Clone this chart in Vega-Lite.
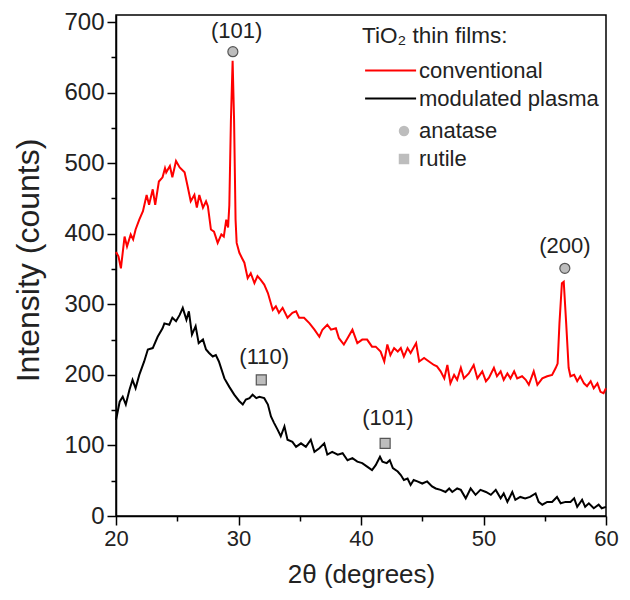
{
"$schema": "https://vega.github.io/schema/vega-lite/v6.json",
"width": 490, "height": 501,
"autosize": {"type": "none"},
"padding": {"left": 116, "top": 15, "right": 24, "bottom": 84},
"background": "white",
"config": {
  "font": "Liberation Sans",
  "view": {"stroke": "#000", "strokeWidth": 1.5},
  "axis": {"domainColor": "#000", "domainWidth": 1.5, "tickColor": "#000", "tickWidth": 1.5, "tickSize": 9, "labelFontSize": 22, "labelColor": "#222", "titleFontSize": 26, "titleFontWeight": "normal", "titleColor": "#222", "grid": false, "labelPadding": 3}
},
"datasets": {
  "xrd": [
{"film":"conventional","angle":20.0,"counts":374},{"film":"conventional","angle":20.2,"counts":368},{"film":"conventional","angle":20.4,"counts":351},{"film":"conventional","angle":20.7,"counts":396},{"film":"conventional","angle":20.9,"counts":382},{"film":"conventional","angle":21.2,"counts":399},{"film":"conventional","angle":21.4,"counts":392},{"film":"conventional","angle":21.6,"counts":406},{"film":"conventional","angle":21.9,"counts":420},{"film":"conventional","angle":22.2,"counts":432},{"film":"conventional","angle":22.5,"counts":455},{"film":"conventional","angle":22.7,"counts":441},{"film":"conventional","angle":23.0,"counts":463},{"film":"conventional","angle":23.2,"counts":441},{"film":"conventional","angle":23.5,"counts":474},{"film":"conventional","angle":23.8,"counts":480},{"film":"conventional","angle":24.0,"counts":493},{"film":"conventional","angle":24.1,"counts":487},{"film":"conventional","angle":24.4,"counts":496},{"film":"conventional","angle":24.6,"counts":480},{"film":"conventional","angle":24.9,"counts":503},{"film":"conventional","angle":25.2,"counts":494},{"film":"conventional","angle":25.6,"counts":487},{"film":"conventional","angle":25.85,"counts":467},{"film":"conventional","angle":26.1,"counts":446},{"film":"conventional","angle":26.4,"counts":455},{"film":"conventional","angle":26.6,"counts":437},{"film":"conventional","angle":26.8,"counts":455},{"film":"conventional","angle":27.1,"counts":437},{"film":"conventional","angle":27.35,"counts":446},{"film":"conventional","angle":27.5,"counts":439},{"film":"conventional","angle":27.75,"counts":406},{"film":"conventional","angle":28.0,"counts":403},{"film":"conventional","angle":28.3,"counts":387},{"film":"conventional","angle":28.6,"counts":399},{"film":"conventional","angle":28.8,"counts":396},{"film":"conventional","angle":29.0,"counts":420},{"film":"conventional","angle":29.15,"counts":409},{"film":"conventional","angle":29.25,"counts":440},{"film":"conventional","angle":29.38,"counts":560},{"film":"conventional","angle":29.52,"counts":645},{"film":"conventional","angle":29.64,"counts":560},{"film":"conventional","angle":29.76,"counts":420},{"film":"conventional","angle":29.85,"counts":387},{"film":"conventional","angle":30.07,"counts":373},{"film":"conventional","angle":30.3,"counts":365},{"film":"conventional","angle":30.48,"counts":359},{"film":"conventional","angle":30.75,"counts":337},{"film":"conventional","angle":31.0,"counts":344},{"film":"conventional","angle":31.3,"counts":330},{"film":"conventional","angle":31.55,"counts":340},{"film":"conventional","angle":31.8,"counts":335},{"film":"conventional","angle":32.1,"counts":328},{"film":"conventional","angle":32.4,"counts":316},{"film":"conventional","angle":32.8,"counts":292},{"film":"conventional","angle":33.05,"counts":297},{"film":"conventional","angle":33.3,"counts":288},{"film":"conventional","angle":33.6,"counts":295},{"film":"conventional","angle":34.0,"counts":281},{"film":"conventional","angle":34.4,"counts":288},{"film":"conventional","angle":34.7,"counts":290},{"film":"conventional","angle":34.95,"counts":281},{"film":"conventional","angle":35.35,"counts":281},{"film":"conventional","angle":35.8,"counts":273},{"film":"conventional","angle":36.2,"counts":264},{"film":"conventional","angle":36.6,"counts":254},{"film":"conventional","angle":36.85,"counts":264},{"film":"conventional","angle":37.25,"counts":271},{"film":"conventional","angle":37.55,"counts":264},{"film":"conventional","angle":37.95,"counts":266},{"film":"conventional","angle":38.2,"counts":252},{"film":"conventional","angle":38.6,"counts":243},{"film":"conventional","angle":38.9,"counts":252},{"film":"conventional","angle":39.3,"counts":264},{"film":"conventional","angle":39.7,"counts":245},{"film":"conventional","angle":40.1,"counts":250},{"film":"conventional","angle":40.5,"counts":250},{"film":"conventional","angle":40.9,"counts":240},{"film":"conventional","angle":41.2,"counts":240},{"film":"conventional","angle":41.6,"counts":233},{"film":"conventional","angle":41.9,"counts":219},{"film":"conventional","angle":42.15,"counts":243},{"film":"conventional","angle":42.4,"counts":228},{"film":"conventional","angle":42.7,"counts":238},{"film":"conventional","angle":43.0,"counts":233},{"film":"conventional","angle":43.25,"counts":238},{"film":"conventional","angle":43.5,"counts":226},{"film":"conventional","angle":43.8,"counts":238},{"film":"conventional","angle":44.05,"counts":231},{"film":"conventional","angle":44.5,"counts":245},{"film":"conventional","angle":44.75,"counts":219},{"film":"conventional","angle":45.15,"counts":224},{"film":"conventional","angle":45.55,"counts":219},{"film":"conventional","angle":45.95,"counts":214},{"film":"conventional","angle":46.2,"counts":212},{"film":"conventional","angle":46.5,"counts":205},{"film":"conventional","angle":46.8,"counts":195},{"film":"conventional","angle":47.05,"counts":214},{"film":"conventional","angle":47.3,"counts":188},{"film":"conventional","angle":47.6,"counts":200},{"film":"conventional","angle":47.85,"counts":193},{"film":"conventional","angle":48.15,"counts":210},{"film":"conventional","angle":48.4,"counts":195},{"film":"conventional","angle":48.8,"counts":202},{"film":"conventional","angle":49.2,"counts":214},{"film":"conventional","angle":49.5,"counts":195},{"film":"conventional","angle":49.9,"counts":205},{"film":"conventional","angle":50.2,"counts":191},{"film":"conventional","angle":50.45,"counts":196},{"film":"conventional","angle":50.85,"counts":210},{"film":"conventional","angle":51.1,"counts":198},{"film":"conventional","angle":51.4,"counts":205},{"film":"conventional","angle":51.65,"counts":193},{"film":"conventional","angle":51.95,"counts":202},{"film":"conventional","angle":52.2,"counts":195},{"film":"conventional","angle":52.5,"counts":205},{"film":"conventional","angle":52.75,"counts":195},{"film":"conventional","angle":53.15,"counts":198},{"film":"conventional","angle":53.45,"counts":193},{"film":"conventional","angle":53.7,"counts":186},{"film":"conventional","angle":54.1,"counts":205},{"film":"conventional","angle":54.4,"counts":186},{"film":"conventional","angle":54.8,"counts":195},{"film":"conventional","angle":55.2,"counts":198},{"film":"conventional","angle":55.6,"counts":200},{"film":"conventional","angle":55.9,"counts":210},{"film":"conventional","angle":56.05,"counts":216},{"film":"conventional","angle":56.2,"counts":273},{"film":"conventional","angle":56.4,"counts":330},{"film":"conventional","angle":56.55,"counts":332},{"film":"conventional","angle":56.75,"counts":273},{"film":"conventional","angle":56.95,"counts":210},{"film":"conventional","angle":57.1,"counts":198},{"film":"conventional","angle":57.4,"counts":200},{"film":"conventional","angle":57.65,"counts":191},{"film":"conventional","angle":57.9,"counts":198},{"film":"conventional","angle":58.2,"counts":188},{"film":"conventional","angle":58.45,"counts":184},{"film":"conventional","angle":58.75,"counts":191},{"film":"conventional","angle":59.0,"counts":181},{"film":"conventional","angle":59.3,"counts":188},{"film":"conventional","angle":59.55,"counts":176},{"film":"conventional","angle":59.8,"counts":174},{"film":"conventional","angle":60.0,"counts":181},
{"film":"modulated plasma","angle":20.0,"counts":136},{"film":"modulated plasma","angle":20.3,"counts":162},{"film":"modulated plasma","angle":20.55,"counts":169},{"film":"modulated plasma","angle":20.8,"counts":158},{"film":"modulated plasma","angle":21.1,"counts":179},{"film":"modulated plasma","angle":21.35,"counts":193},{"film":"modulated plasma","angle":21.6,"counts":181},{"film":"modulated plasma","angle":21.9,"counts":200},{"film":"modulated plasma","angle":22.3,"counts":219},{"film":"modulated plasma","angle":22.6,"counts":236},{"film":"modulated plasma","angle":23.0,"counts":238},{"film":"modulated plasma","angle":23.4,"counts":254},{"film":"modulated plasma","angle":23.8,"counts":266},{"film":"modulated plasma","angle":23.95,"counts":273},{"film":"modulated plasma","angle":24.35,"counts":271},{"film":"modulated plasma","angle":24.6,"counts":281},{"film":"modulated plasma","angle":24.9,"counts":276},{"film":"modulated plasma","angle":25.2,"counts":285},{"film":"modulated plasma","angle":25.45,"counts":295},{"film":"modulated plasma","angle":25.75,"counts":278},{"film":"modulated plasma","angle":25.95,"counts":290},{"film":"modulated plasma","angle":26.2,"counts":257},{"film":"modulated plasma","angle":26.5,"counts":269},{"film":"modulated plasma","angle":26.75,"counts":245},{"film":"modulated plasma","angle":27.1,"counts":250},{"film":"modulated plasma","angle":27.35,"counts":236},{"film":"modulated plasma","angle":27.6,"counts":231},{"film":"modulated plasma","angle":27.9,"counts":226},{"film":"modulated plasma","angle":28.15,"counts":228},{"film":"modulated plasma","angle":28.4,"counts":219},{"film":"modulated plasma","angle":28.85,"counts":195},{"film":"modulated plasma","angle":29.25,"counts":183},{"film":"modulated plasma","angle":29.65,"counts":172},{"film":"modulated plasma","angle":30.05,"counts":163},{"film":"modulated plasma","angle":30.35,"counts":158},{"film":"modulated plasma","angle":30.6,"counts":165},{"film":"modulated plasma","angle":30.9,"counts":167},{"film":"modulated plasma","angle":31.15,"counts":172},{"film":"modulated plasma","angle":31.45,"counts":167},{"film":"modulated plasma","angle":31.7,"counts":169},{"film":"modulated plasma","angle":32.1,"counts":167},{"film":"modulated plasma","angle":32.4,"counts":158},{"film":"modulated plasma","angle":32.65,"counts":141},{"film":"modulated plasma","angle":32.9,"counts":132},{"film":"modulated plasma","angle":33.2,"counts":122},{"film":"modulated plasma","angle":33.45,"counts":113},{"film":"modulated plasma","angle":33.75,"counts":127},{"film":"modulated plasma","angle":34.0,"counts":108},{"film":"modulated plasma","angle":34.4,"counts":105},{"film":"modulated plasma","angle":34.7,"counts":98},{"film":"modulated plasma","angle":35.1,"counts":103},{"film":"modulated plasma","angle":35.5,"counts":98},{"film":"modulated plasma","angle":35.9,"counts":108},{"film":"modulated plasma","angle":36.2,"counts":91},{"film":"modulated plasma","angle":36.6,"counts":96},{"film":"modulated plasma","angle":37.0,"counts":103},{"film":"modulated plasma","angle":37.25,"counts":87},{"film":"modulated plasma","angle":37.65,"counts":91},{"film":"modulated plasma","angle":38.1,"counts":87},{"film":"modulated plasma","angle":38.5,"counts":89},{"film":"modulated plasma","angle":38.9,"counts":79},{"film":"modulated plasma","angle":39.3,"counts":82},{"film":"modulated plasma","angle":39.7,"counts":77},{"film":"modulated plasma","angle":40.1,"counts":75},{"film":"modulated plasma","angle":40.5,"counts":70},{"film":"modulated plasma","angle":40.9,"counts":65},{"film":"modulated plasma","angle":41.2,"counts":72},{"film":"modulated plasma","angle":41.55,"counts":84},{"film":"modulated plasma","angle":41.75,"counts":77},{"film":"modulated plasma","angle":42.1,"counts":75},{"film":"modulated plasma","angle":42.35,"counts":79},{"film":"modulated plasma","angle":42.6,"counts":68},{"film":"modulated plasma","angle":43.0,"counts":63},{"film":"modulated plasma","angle":43.25,"counts":58},{"film":"modulated plasma","angle":43.5,"counts":51},{"film":"modulated plasma","angle":43.8,"counts":53},{"film":"modulated plasma","angle":44.05,"counts":44},{"film":"modulated plasma","angle":44.3,"counts":51},{"film":"modulated plasma","angle":44.6,"counts":49},{"film":"modulated plasma","angle":45.0,"counts":46},{"film":"modulated plasma","angle":45.4,"counts":49},{"film":"modulated plasma","angle":45.8,"counts":42},{"film":"modulated plasma","angle":46.1,"counts":39},{"film":"modulated plasma","angle":46.5,"counts":37},{"film":"modulated plasma","angle":46.9,"counts":34},{"film":"modulated plasma","angle":47.2,"counts":39},{"film":"modulated plasma","angle":47.45,"counts":34},{"film":"modulated plasma","angle":47.85,"counts":39},{"film":"modulated plasma","angle":48.15,"counts":37},{"film":"modulated plasma","angle":48.55,"counts":25},{"film":"modulated plasma","angle":48.95,"counts":39},{"film":"modulated plasma","angle":49.35,"counts":30},{"film":"modulated plasma","angle":49.75,"counts":37},{"film":"modulated plasma","angle":50.2,"counts":34},{"film":"modulated plasma","angle":50.6,"counts":30},{"film":"modulated plasma","angle":51.0,"counts":37},{"film":"modulated plasma","angle":51.4,"counts":25},{"film":"modulated plasma","angle":51.65,"counts":32},{"film":"modulated plasma","angle":51.95,"counts":20},{"film":"modulated plasma","angle":52.35,"counts":34},{"film":"modulated plasma","angle":52.6,"counts":23},{"film":"modulated plasma","angle":53.0,"counts":27},{"film":"modulated plasma","angle":53.4,"counts":25},{"film":"modulated plasma","angle":53.8,"counts":27},{"film":"modulated plasma","angle":54.25,"counts":32},{"film":"modulated plasma","angle":54.5,"counts":20},{"film":"modulated plasma","angle":54.8,"counts":16},{"film":"modulated plasma","angle":55.2,"counts":20},{"film":"modulated plasma","angle":55.6,"counts":20},{"film":"modulated plasma","angle":56.0,"counts":27},{"film":"modulated plasma","angle":56.3,"counts":18},{"film":"modulated plasma","angle":56.7,"counts":20},{"film":"modulated plasma","angle":57.1,"counts":20},{"film":"modulated plasma","angle":57.4,"counts":25},{"film":"modulated plasma","angle":57.65,"counts":13},{"film":"modulated plasma","angle":58.05,"counts":23},{"film":"modulated plasma","angle":58.3,"counts":13},{"film":"modulated plasma","angle":58.6,"counts":18},{"film":"modulated plasma","angle":59.0,"counts":11},{"film":"modulated plasma","angle":59.4,"counts":16},{"film":"modulated plasma","angle":59.65,"counts":11},{"film":"modulated plasma","angle":60.0,"counts":13}
  ],
  "peaks": [
    {"phase":"anatase","angle":29.54,"counts":658,"label":"(101)","labelAngle":29.85,"labelCounts":688},
    {"phase":"anatase","angle":56.64,"counts":351,"label":"(200)","labelAngle":56.65,"labelCounts":382},
    {"phase":"rutile","angle":31.86,"counts":193,"label":"(110)","labelAngle":32.1,"labelCounts":226},
    {"phase":"rutile","angle":41.97,"counts":103,"label":"(101)","labelAngle":42.19,"labelCounts":139}
  ],
  "minor": [
    {"angle":25,"counts":50},{"angle":35,"counts":150},{"angle":45,"counts":250},{"angle":55,"counts":350}
  ]
},
"layer": [
  {
    "data": {"name": "xrd"},
    "mark": {"type": "line", "strokeWidth": 2},
    "encoding": {
      "x": {"field": "angle", "type": "quantitative", "scale": {"domain": [20, 60], "nice": false, "zero": false},
            "axis": {"orient": "bottom", "values": [20, 30, 40, 50, 60], "format": "d", "title": "2θ (degrees)", "titlePadding": 12, "labelFlush": false}},
      "y": {"field": "counts", "type": "quantitative", "scale": {"domain": [0, 710], "nice": false},
            "axis": {"orient": "left", "values": [0, 100, 200, 300, 400, 500, 600, 700], "format": "d", "labelFontSize": 24, "title": "Intensity (counts)", "titleFontSize": 32, "titleX": -88, "titleY": 245, "titleBaseline": "middle"}},
      "color": {"field": "film", "type": "nominal",
                "scale": {"domain": ["conventional", "modulated plasma"], "range": ["#ff0000", "#000000"]},
                "legend": {"orient": "none", "legendX": 246, "legendY": 10, "padding": 0, "title": "TiO₂ thin films:", "titleFontSize": 22.5, "titleFontWeight": "normal", "titleColor": "#222", "titlePadding": 12, "titleLimit": 400, "labelFontSize": 22, "labelColor": "#222", "labelLimit": 400, "symbolType": "M-3.1,0H16.9", "symbolSize": 26, "symbolStrokeWidth": 2, "labelOffset": 35, "rowPadding": 6}}
    }
  },
  {
    "data": {"name": "peaks"},
    "mark": {"type": "point", "filled": true, "fill": "#bdbdbd", "stroke": "#555555", "strokeWidth": 1.2, "size": 100, "opacity": 1},
    "encoding": {
      "x": {"field": "angle", "type": "quantitative", "axis": null},
      "y": {"field": "counts", "type": "quantitative", "axis": null},
      "shape": {"field": "phase", "type": "nominal", "scale": {"domain": ["anatase", "rutile"], "range": ["circle", "square"]},
                "legend": {"orient": "none", "legendX": 277, "legendY": 105, "padding": 0, "title": null, "labelFontSize": 22, "labelColor": "#222", "labelLimit": 300, "symbolSize": 110, "symbolFillColor": "#bdbdbd", "symbolStrokeColor": "#555555", "symbolStrokeWidth": 1.2, "symbolOpacity": 1, "labelOffset": 4, "rowPadding": 6}}
    }
  },
  {
    "data": {"name": "peaks"},
    "mark": {"type": "text", "fontSize": 22, "color": "#222", "align": "center", "baseline": "middle"},
    "encoding": {
      "x": {"field": "labelAngle", "type": "quantitative", "axis": null},
      "y": {"field": "labelCounts", "type": "quantitative", "axis": null},
      "text": {"field": "label"}
    }
  },
  {
    "data": {"name": "minor"},
    "mark": {"type": "point", "opacity": 0},
    "encoding": {
      "x": {"field": "angle", "type": "quantitative", "axis": {"orient": "bottom", "values": [25, 35, 45, 55], "labels": false, "domain": false, "tickSize": 5, "title": null}},
      "y": {"field": "counts", "type": "quantitative", "axis": {"orient": "left", "values": [50, 150, 250, 350, 450, 550, 650], "labels": false, "domain": false, "tickSize": 5, "title": null}}
    }
  }
],
"resolve": {"axis": {"x": "independent", "y": "independent"}}
}
